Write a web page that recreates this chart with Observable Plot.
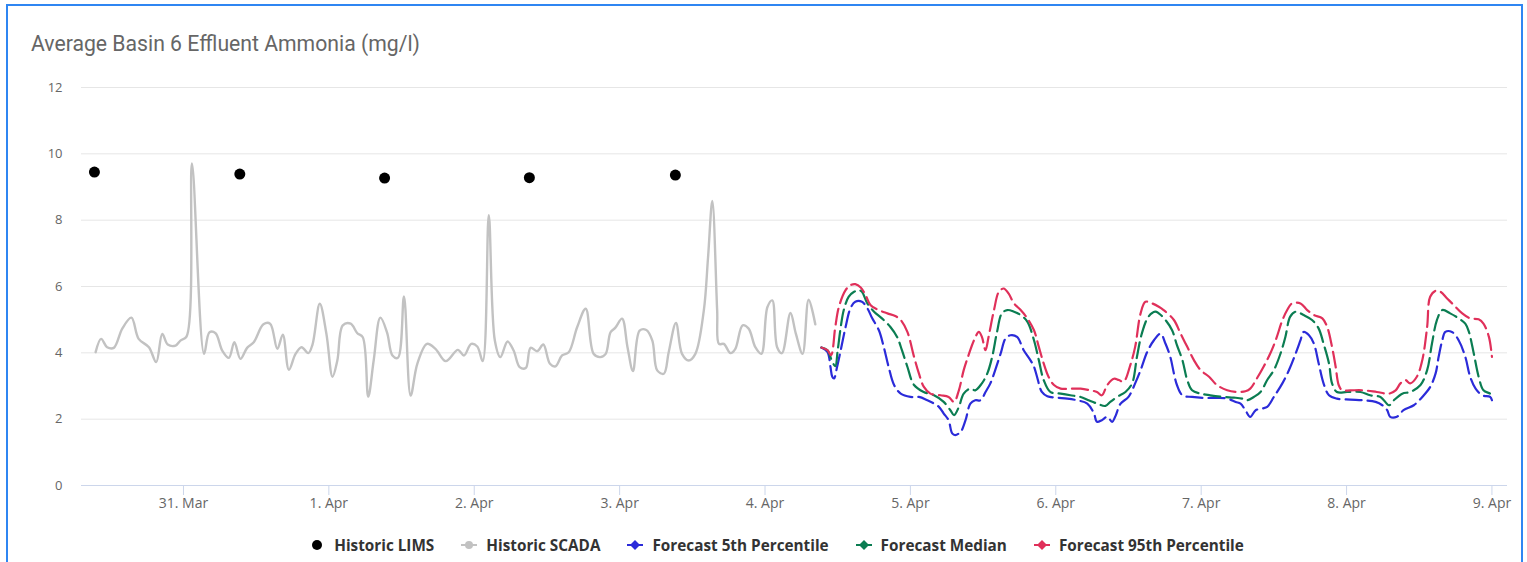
<!DOCTYPE html>
<html>
<head>
<meta charset="utf-8">
<script src="https://cdn.jsdelivr.net/npm/d3@7"></script>
<script src="https://cdn.jsdelivr.net/npm/@observablehq/plot@0.6"></script>
<style>
  html, body { margin: 0; padding: 0; background: #fff; }
  body { width: 1527px; height: 562px; position: relative; overflow: hidden; }
  #frame { position: absolute; left: 6px; top: 4px; width: 1517px; height: 640px; border: 2px solid #2f86f2; box-sizing: border-box; }
  #title { position: absolute; left: 31px; top: 31px; font-family: Roboto, sans-serif; font-size: 21.2px; color: #666; white-space: nowrap; }
  #chart { position: absolute; left: 0; top: 70px; }
  #legend { position: absolute; left: 26px; width: 1501px; top: 535px; display: flex; justify-content: center; gap: 27px;
            font-family: "Open Sans", sans-serif; font-weight: bold; font-size: 15.3px; color: #333; }
  .item { display: flex; align-items: center; gap: 9px; white-space: nowrap; }
  .item svg { display: block; }
</style>
</head>
<body>
<div id="frame"></div>
<div id="title">Average Basin 6 Effluent Ammonia (mg/l)</div>
<div id="chart"></div>
<div id="legend"></div>
<script>
// ---- data ----
const historyStart = Date.UTC(2024, 2, 30);   // 30 Mar, hours are counted from here
const forecastStart = Date.UTC(2024, 3, 4);   // 4 Apr, forecast hours are counted from here

const limsHours = [9.3, 33.3, 57.2, 81.1, 105.2];
const limsValues = [9.45, 9.39, 9.27, 9.28, 9.36];

const scadaPairs = [
  [9.5,4.02],[10.4,4.42],[11.4,4.17],[12.5,4.15],[13.9,4.73],[15.4,5.06],[16.6,4.42],[18.3,4.17],[19.5,3.72],
  [20.5,4.57],[21.4,4.25],[22.7,4.22],[23.5,4.37],[24.5,4.49],[25.4,9.71],[27.4,3.97],[28.3,4.62],[29.3,4.59],
  [30.4,4.07],[31.5,3.85],[32.4,4.32],[33.4,3.82],[34.5,4.15],[35.6,4.32],[37.2,4.86],[38.3,4.88],[39.5,4.12],
  [40.4,4.55],[41.4,3.49],[42.5,3.97],[43.5,4.17],[44.6,3.99],[45.3,4.25],[46.5,5.48],[47.6,4.57],[48.6,3.28],
  [49.4,3.77],[50.3,4.83],[51.6,4.88],[52.7,4.59],[53.6,4.47],[54.5,2.68],[55.4,3.77],[56.5,5.06],[57.6,4.62],
  [58.5,3.92],[59.4,3.85],[60.4,5.70],[61.5,2.71],[62.6,3.67],[64.2,4.27],[65.6,4.12],[67.3,3.75],[69.3,4.09],
  [70.3,3.92],[71.5,4.27],[72.5,4.19],[73.4,3.75],[74.4,8.15],[75.4,4.37],[76.3,3.87],[77.5,4.34],[78.5,4.07],
  [79.5,3.57],[80.5,3.54],[81.3,4.15],[82.4,4.05],[83.4,4.25],[84.5,3.67],[85.4,3.59],[86.5,3.92],[87.6,4.02],
  [89.0,4.78],[90.4,5.33],[91.7,3.97],[92.8,3.87],[93.7,3.97],[94.5,4.62],[95.3,4.76],[96.4,5.03],[97.3,4.17],
  [98.2,3.45],[99.3,4.67],[100.4,4.69],[101.4,4.37],[102.2,3.47],[103.3,3.37],[104.1,4.02],[105.3,4.90],
  [106.3,3.97],[107.4,3.77],[108.5,3.97],[109.9,5.28],[110.6,6.89],[111.3,8.58],[112.1,5.28],[112.4,4.27],
  [113.2,4.27],[114.3,3.99],[115.1,4.12],[116.3,4.83],[117.3,4.73],[118.4,4.17],[119.4,3.97],[120.4,5.38],
  [121.2,5.58],[122.0,4.17],[122.8,3.99],[124.2,5.20],[125.1,4.57],[126.2,3.97],[127.2,5.60],[128.3,4.86]
];

const forecast5th = [
  [9.3,4.16],[10.3,4.03],[10.8,3.58],[11.1,3.28],[11.4,3.23],[11.9,3.58],[12.5,4.08],[13.3,4.78],[14.1,5.34],
  [14.9,5.54],[16.0,5.54],[16.9,5.34],[17.7,5.04],[18.8,4.68],[19.6,4.18],[20.4,3.58],[21.3,3.03],[22.4,2.77],
  [24.0,2.67],[25.4,2.67],[26.8,2.57],[27.9,2.47],[28.7,2.37],[29.5,2.17],[30.3,1.97],[30.9,1.57],[31.4,1.52],
  [32.3,1.62],[33.1,1.97],[33.9,2.47],[34.7,2.57],[35.6,2.57],[36.4,2.82],[37.2,3.08],[38.0,3.48],[38.9,3.98],
  [39.7,4.43],[40.5,4.53],[41.6,4.48],[42.7,4.08],[43.8,3.78],[44.4,3.58],[44.9,3.28],[45.7,2.82],[46.6,2.69],
  [48.2,2.65],[49.9,2.62],[51.5,2.57],[53.2,2.47],[54.3,2.17],[54.8,1.92],[55.6,1.97],[56.5,2.07],[57.3,1.92],
  [57.8,2.07],[58.7,2.47],[60.0,2.67],[61.1,3.08],[62.0,3.48],[63.1,4.03],[64.2,4.38],[65.3,4.58],[66.1,4.28],
  [66.9,3.88],[67.5,3.38],[68.0,3.03],[68.9,2.72],[70.5,2.67],[72.4,2.64],[74.6,2.64],[76.3,2.62],[77.7,2.52],
  [78.5,2.47],[79.3,2.27],[80.1,2.07],[81.0,2.27],[82.1,2.32],[82.9,2.37],[84.0,2.67],[85.4,3.08],[86.5,3.48],
  [87.6,3.98],[88.4,4.38],[88.9,4.63],[89.8,4.53],[90.6,4.28],[91.4,3.68],[92.2,3.08],[93.1,2.72],[94.4,2.62],
  [96.6,2.59],[98.8,2.57],[100.8,2.52],[101.9,2.42],[102.7,2.27],[103.2,2.07],[104.3,2.07],[105.4,2.27],
  [107.1,2.42],[108.5,2.67],[109.8,2.97],[110.7,3.38],[111.2,3.88],[111.8,4.38],[112.3,4.63],[113.4,4.63],
  [114.5,4.38],[115.6,3.88],[116.4,3.28],[117.3,2.92],[118.4,2.72],[119.7,2.67],[120.0,2.57]
];

const forecastMedian = [
  [9.3,4.16],[10.3,4.08],[11.1,3.73],[11.6,3.60],[12.0,4.08],[12.5,4.78],[13.0,5.29],[13.8,5.69],[14.7,5.84],
  [15.5,5.89],[16.0,5.84],[16.9,5.49],[18.0,5.24],[19.3,5.04],[20.7,4.78],[21.8,4.48],[22.6,4.08],[23.5,3.58],
  [24.6,3.03],[26.2,2.82],[27.9,2.72],[29.5,2.52],[30.6,2.27],[31.2,2.12],[32.0,2.37],[32.8,2.77],[33.9,2.92],
  [34.7,2.87],[35.8,3.08],[36.7,3.38],[37.5,3.88],[38.3,4.63],[39.1,5.19],[40.0,5.29],[41.1,5.24],[42.2,5.14],
  [43.3,4.94],[44.4,4.38],[45.2,3.78],[46.0,3.18],[47.1,2.82],[48.8,2.77],[50.4,2.72],[52.1,2.67],[53.4,2.57],
  [54.8,2.47],[56.2,2.40],[57.0,2.52],[58.1,2.67],[59.5,2.82],[60.6,3.08],[61.4,3.88],[62.2,4.58],[63.3,5.09],
  [64.4,5.24],[65.0,5.19],[66.1,4.99],[67.2,4.68],[68.0,4.23],[68.9,3.78],[69.7,3.18],[70.5,2.87],[71.9,2.77],
  [73.5,2.72],[75.7,2.67],[77.4,2.65],[78.8,2.62],[79.6,2.57],[80.7,2.67],[81.8,2.82],[82.9,3.18],[84.0,3.48],
  [85.1,3.98],[85.9,4.48],[86.7,5.09],[87.6,5.24],[88.9,5.14],[90.3,4.99],[91.4,4.73],[92.2,4.28],[93.1,3.68],
  [93.6,3.08],[94.4,2.82],[96.1,2.82],[98.3,2.82],[99.9,2.72],[101.6,2.67],[103.0,2.42],[103.8,2.57],[105.2,2.77],
  [106.5,2.82],[108.2,3.03],[109.3,3.48],[110.1,4.28],[110.9,4.98],[111.8,5.29],[113.1,5.19],[114.5,5.04],
  [115.6,4.88],[116.2,4.63],[117.0,3.98],[117.8,3.28],[118.6,2.87],[119.7,2.77],[120.0,2.72]
];

const forecast95th = [
  [9.3,4.16],[10.3,4.08],[10.9,3.93],[11.6,4.78],[12.2,5.39],[13.3,5.89],[14.1,6.04],[14.9,6.07],[15.8,5.97],
  [16.6,5.74],[17.4,5.44],[18.5,5.31],[20.2,5.19],[21.5,5.11],[22.4,4.99],[23.5,4.63],[24.6,3.88],[25.4,3.38],
  [26.2,2.98],[27.3,2.77],[29.0,2.72],[30.3,2.67],[31.2,2.52],[32.0,2.87],[32.8,3.48],[33.6,3.93],[34.5,4.38],
  [35.3,4.63],[35.8,4.48],[36.4,4.08],[36.9,4.48],[37.8,5.29],[38.6,5.84],[39.4,5.94],[40.2,5.79],[41.1,5.49],
  [42.2,5.29],[43.3,5.04],[44.4,4.68],[45.2,4.18],[46.0,3.68],[46.8,3.28],[47.7,3.03],[48.8,2.92],[50.4,2.92],
  [52.1,2.92],[53.7,2.87],[54.8,2.82],[55.6,2.72],[56.5,3.03],[57.6,3.22],[58.4,3.18],[59.2,3.13],[60.3,3.63],
  [61.1,4.18],[62.0,5.19],[62.8,5.54],[63.9,5.49],[65.0,5.39],[65.8,5.29],[67.5,4.99],[68.6,4.58],[69.7,4.18],
  [70.8,3.78],[71.9,3.48],[73.3,3.28],[74.6,3.03],[76.3,2.87],[77.9,2.82],[79.3,2.84],[80.1,2.92],[81.2,3.23],
  [82.3,3.58],[83.4,3.98],[84.3,4.38],[85.4,4.98],[86.2,5.29],[87.0,5.49],[88.4,5.49],[89.5,5.29],[90.6,5.14],
  [92.0,5.04],[92.8,4.78],[93.6,4.18],[94.2,3.58],[94.7,3.03],[95.3,2.87],[96.6,2.87],[98.8,2.87],[101.0,2.82],
  [103.0,2.77],[104.1,2.87],[104.9,3.08],[105.7,3.18],[106.5,3.08],[107.6,3.28],[108.5,3.78],[109.3,4.78],
  [109.8,5.69],[110.7,5.87],[111.5,5.84],[112.6,5.64],[113.7,5.44],[115.1,5.19],[116.4,5.04],[117.8,5.01],
  [118.6,4.88],[119.5,4.48],[120.0,3.88]
];

const yTicks = [0, 2, 4, 6, 8, 10, 12];
const xTickDates = ["2024-03-31","2024-04-01","2024-04-02","2024-04-03","2024-04-04",
                    "2024-04-05","2024-04-06","2024-04-07","2024-04-08","2024-04-09"];
const xDomain = ["2024-03-30T07:10Z", "2024-04-09T02:34Z"];

const seriesNames = ["Historic LIMS", "Historic SCADA", "Forecast 5th Percentile", "Forecast Median", "Forecast 95th Percentile"];
const seriesColors = ["#000000", "#c2c2c2", "#2b2bd9", "#0b7d52", "#e0305a"];

// ---- build tables ----
const H = 3600e3;
const lims = limsHours.map((h, i) => ({t: new Date(historyStart + h * H), v: limsValues[i]}));
const toHist = p => ({t: new Date(historyStart + p[0] * H), v: p[1]});
const toFc = p => ({t: new Date(forecastStart + p[0] * H), v: p[1]});
const scada = scadaPairs.map(toHist);
const f5 = forecast5th.map(toFc);
const f50 = forecastMedian.map(toFc);
const f95 = forecast95th.map(toFc);
const dash = "16,6";

const chart = Plot.plot({
  width: 1527,
  height: 460,
  marginLeft: 81,
  marginRight: 20,
  marginTop: 17,
  marginBottom: 45,
  style: {fontFamily: "'Open Sans', sans-serif", fontSize: "14px", background: "transparent", overflow: "visible"},
  x: {type: "utc", domain: xDomain.map(d => new Date(d))},
  y: {domain: [0, 12]},
  marks: [
    Plot.gridY(yTicks, {stroke: "#e6e6e6", strokeOpacity: 1}),
    Plot.axisY(yTicks, {tickSize: 0, tickPadding: 19, label: null, fill: "#666", fontSize: 13}),
    Plot.ruleY([0], {stroke: "#ccd6eb"}),
    Plot.axisX(xTickDates.map(d => new Date(d)), {tickSize: 10, tickPadding: 3, stroke: "#ccd6eb", label: null,
      fill: "#666", fontSize: 14, tickFormat: d3.utcFormat("%-d. %b")}),
    Plot.line(scada, {x: "t", y: "v", stroke: seriesColors[1], strokeWidth: 2.4, curve: "catmull-rom"}),
    Plot.line(f5, {x: "t", y: "v", stroke: seriesColors[2], strokeWidth: 2.2, strokeDasharray: dash, curve: "catmull-rom"}),
    Plot.line(f50, {x: "t", y: "v", stroke: seriesColors[3], strokeWidth: 2.2, strokeDasharray: dash, curve: "catmull-rom"}),
    Plot.line(f95, {x: "t", y: "v", stroke: seriesColors[4], strokeWidth: 2.2, strokeDasharray: dash, curve: "catmull-rom"}),
    Plot.dot(lims, {x: "t", y: "v", r: 5.5, fill: seriesColors[0], stroke: "none"})
  ]
});
document.getElementById("chart").appendChild(chart);

// ---- legend ----
const legend = document.getElementById("legend");
seriesNames.forEach((name, i) => {
  const c = seriesColors[i];
  let sym;
  if (i === 0) {
    sym = `<svg width="16" height="14"><circle cx="8" cy="7" r="5" fill="${c}"/></svg>`;
  } else if (i === 1) {
    sym = `<svg width="16" height="14"><line x1="0" x2="16" y1="7" y2="7" stroke="${c}" stroke-width="2"/><circle cx="8" cy="7" r="4" fill="${c}"/></svg>`;
  } else {
    sym = `<svg width="16" height="14"><line x1="0" x2="16" y1="7" y2="7" stroke="${c}" stroke-width="2"/><path d="M8,2 L13,7 L8,12 L3,7 Z" fill="${c}"/></svg>`;
  }
  const el = document.createElement("div");
  el.className = "item";
  el.innerHTML = sym + `<span>${name}</span>`;
  legend.appendChild(el);
});
</script>
</body>
</html>
